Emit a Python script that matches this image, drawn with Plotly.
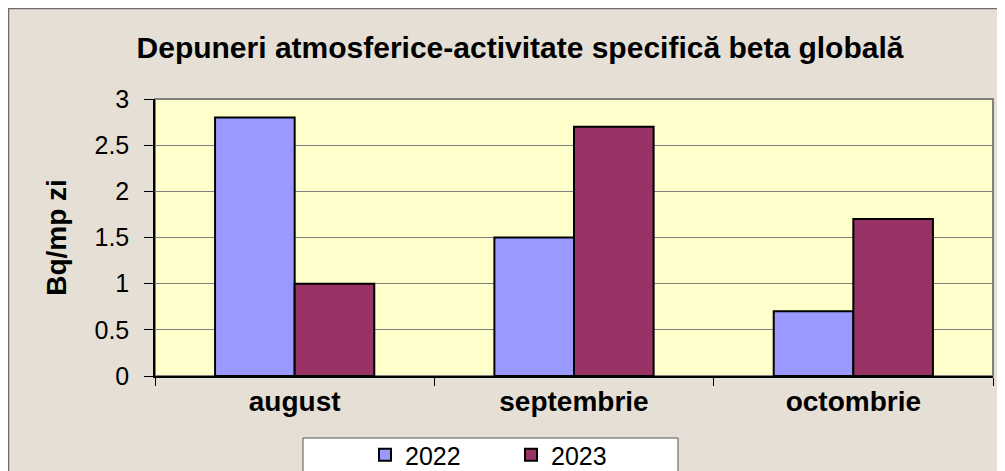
import plotly.graph_objects as go

# data
months = ['august', 'septembrie', 'octombrie']
val_2022 = [2.8, 1.5, 0.7]
val_2023 = [1.0, 2.7, 1.7]
y_ticks = [0, 0.5, 1, 1.5, 2, 2.5, 3]
y_labels = ['0', '0.5', '1', '1.5', '2', '2.5', '3']

W, H = 1005, 471
# page has an 8px body margin, so figure coords = screen coords - 8
ML, MR, MT, MB = 147, 20, 91, 103
PW, PH = W - ML - MR, H - MT - MB


def px_x(p):
    # figure pixel -> paper x
    return (p - ML) / PW


def px_y(p):
    # figure pixel -> paper y
    return (H - MB - p) / PH


FONT = 'Arial, Liberation Sans, sans-serif'

fig = go.Figure()
fig.add_trace(go.Bar(x=months, y=val_2022, name='2022',
                     marker=dict(color='#9999FF', line=dict(color='black', width=2))))
fig.add_trace(go.Bar(x=months, y=val_2023, name='2023',
                     marker=dict(color='#993366', line=dict(color='black', width=2))))

# chart border and plot area (light yellow)
fig.add_shape(type='rect', xref='paper', yref='paper', layer='below',
              x0=px_x(0.5), x1=px_x(1010), y0=px_y(480), y1=px_y(0.5),
              line=dict(color='#6E6E6E', width=1.5))
fig.add_shape(type='rect', xref='paper', yref='paper', layer='below',
              x0=0, x1=1, y0=0, y1=1,
              fillcolor='#FFFFCC', line=dict(color='#808080', width=2))
# legend box
fig.add_shape(type='rect', xref='paper', yref='paper',
              x0=px_x(295), x1=px_x(670), y0=px_y(480), y1=px_y(430),
              fillcolor='white', line=dict(color='#555555', width=1))

fig.update_layout(
    width=W, height=H,
    margin=dict(l=ML, r=MR, t=MT, b=MB, autoexpand=False),
    paper_bgcolor='#E5DFD5',
    plot_bgcolor='rgba(0,0,0,0)',
    font=dict(family=FONT, color='black'),
    title=dict(text='<b>Depuneri atmosferice-activitate specifică beta globală</b>',
               x=512 / W, xanchor='center', y=1 - 39 / H, yanchor='middle',
               font=dict(size=30)),
    barmode='group', bargap=0.43, bargroupgap=0,
    showlegend=True,
    legend=dict(orientation='h', x=px_x(357), xanchor='left',
                y=px_y(424), yanchor='top', bgcolor='rgba(0,0,0,0)',
                borderwidth=0, entrywidth=101, font=dict(size=25)),
)
fig.update_xaxes(type='category', showline=True, linecolor='black', linewidth=1.5,
                 ticks='outside', tickson='boundaries', ticklen=8,
                 tickcolor='black', tickfont=dict(size=28),
                 tickvals=months, ticktext=['<b>' + m + '</b>' for m in months])
fig.update_yaxes(range=[0, 3], tickvals=y_ticks, ticktext=y_labels,
                 showline=True, linecolor='black', linewidth=1.5,
                 ticks='outside', ticklen=9, tickcolor='black',
                 tickfont=dict(size=25), ticklabelstandoff=10,
                 showgrid=True, gridcolor='#808080', gridwidth=1,
                 zeroline=False, automargin=False,
                 title=dict(text='<b>Bq/mp zi</b>', font=dict(size=28), standoff=20))

fig.write_html('out.html')
